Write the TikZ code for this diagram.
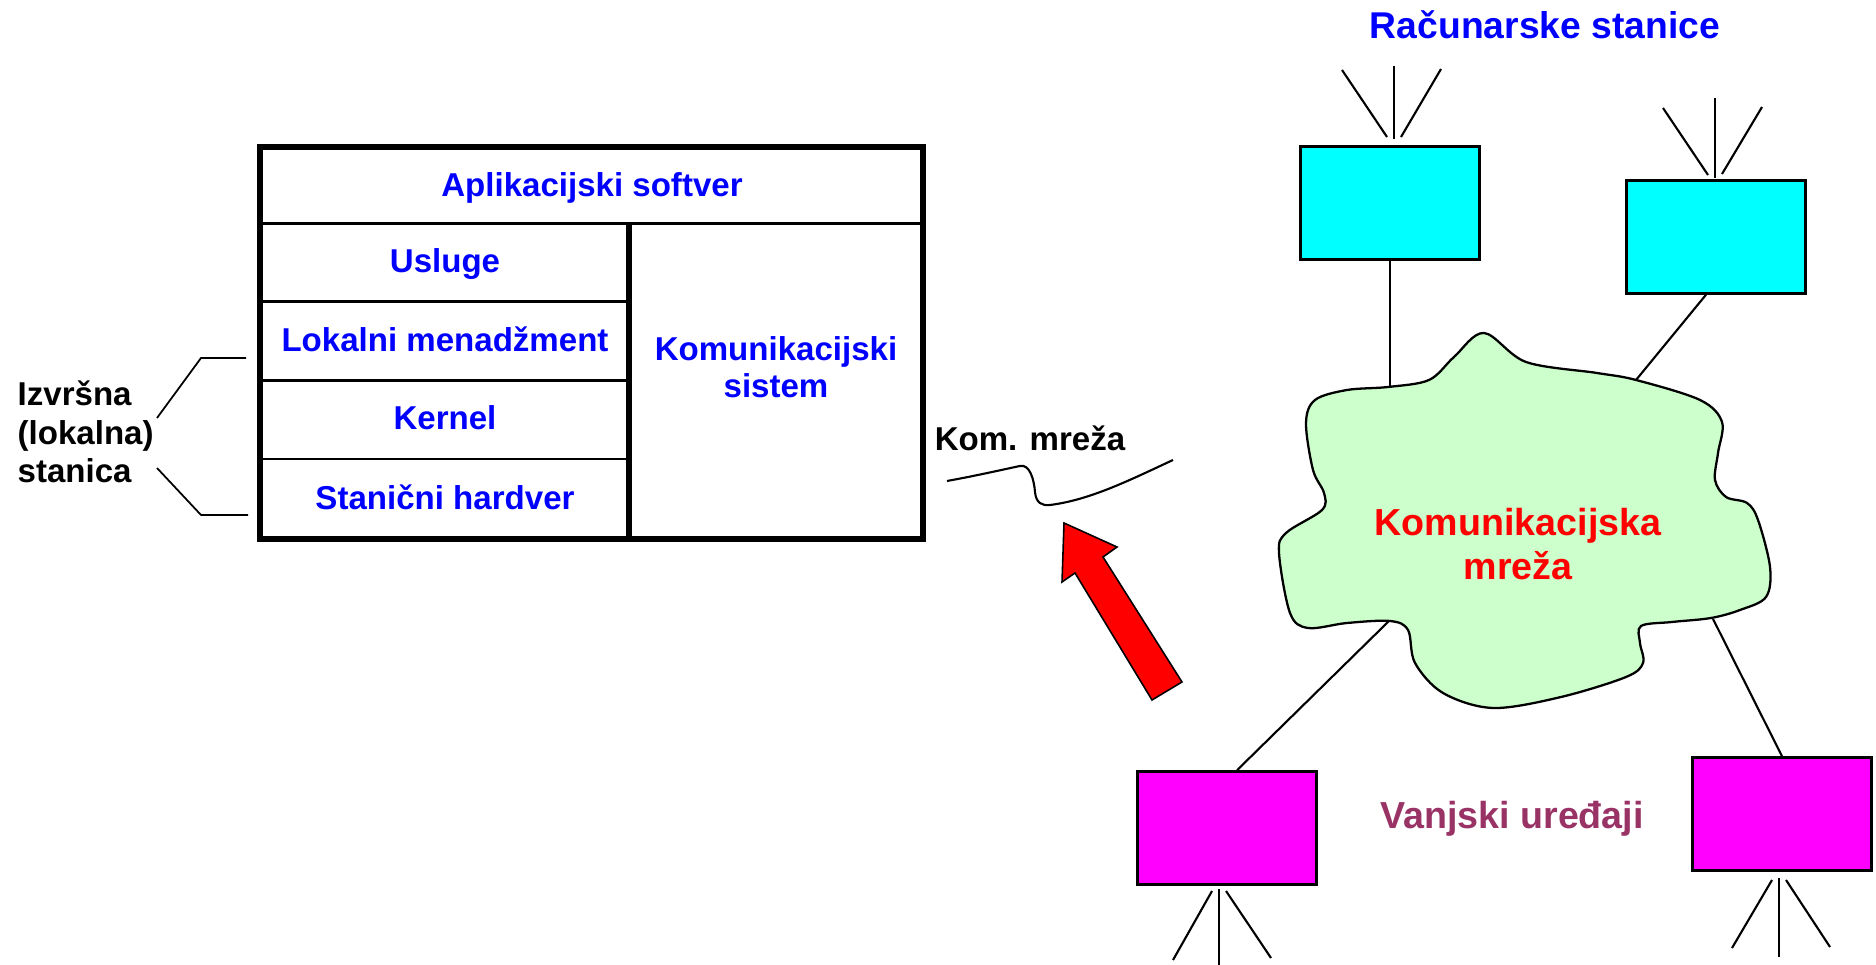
\documentclass[tikz,border=0pt]{standalone}
\usepackage{fontspec}
\setmainfont{Liberation Sans}
\definecolor{mrezagreen}{RGB}{204,255,204}
\definecolor{uredjaji}{RGB}{153,51,102}
\definecolor{stanicacyan}{RGB}{0,255,255}
\definecolor{uredjajmagenta}{RGB}{255,0,255}
\tikzset{
  sloj/.style={font=\fontsize{9.4}{10.6}\selectfont\bfseries, text=blue, anchor=base, inner sep=0pt},
  crni/.style={font=\fontsize{9.4}{11}\selectfont\bfseries, inner sep=0pt},
  stanica/.style={draw, line width=0.7pt, fill=stanicacyan, minimum width=1.79cm, minimum height=1.13cm, inner sep=0pt},
  uredjaj/.style={stanica, fill=uredjajmagenta},
  veza/.style={line width=0.6pt},
}
\begin{document}
\begin{tikzpicture}[x=0.01cm, y=-0.01cm]
\useasboundingbox (0,0) rectangle (1876,965);

\draw[line width=1.85pt] (260,147) rectangle (923,539);
\draw[line width=0.85pt] (260,223.5) -- (923,223.5);
\draw[line width=1.9pt] (629,223.5) -- (629,539);
\foreach \y in {301.7,380.5,459}
  \draw[line width=0.7pt] (260,\y) -- (629,\y);

\node[sloj] (apl) at (592,196.5) {Aplikacijski softver};
\node[sloj] (usl) at (445,273) {Usluge};
\node[sloj] (lok) at (445,351.5) {Lokalni menadžment};
\node[sloj] (ker) at (445,430) {Kernel};
\node[sloj] (hw) at (445,509.5) {Stanični hardver};
\node[sloj, anchor=center, align=center] (ks) at (776,367) {Komunikacijski\\sistem};

\node[crni, align=left, anchor=north west] (izv) at (17,380) {Izvršna\\(lokalna)\\stanica};
\draw[line width=0.5pt] (246,358) -- (201,358) -- (157,418);
\draw[line width=0.5pt] (157,468) -- (201,515) -- (248,515);

\node[crni, anchor=base] (km) at (1030,451) {Kom. mreža};
\draw[veza] (947,481) .. controls (980,475) and (1010,468) .. (1020,466)
  .. controls (1030,464) and (1034,480) .. (1035,492)
  .. controls (1036,503) and (1042,506) .. (1050,505)
  .. controls (1090,500) and (1130,480) .. (1173,460);

\draw[line width=0.45pt, fill=red] (1064,523) -- (1062,582) -- (1075,573) -- (1152,700)
  -- (1182,682) -- (1103,557) -- (1117,547) -- cycle;

\draw[line width=0.65pt, fill=mrezagreen] plot[smooth cycle, tension=0.55] coordinates {
  (1484,333) (1526,362) (1597,373) (1636,380) (1700,400) (1722,422) (1718,453)
  (1715,480) (1726,497) (1747,503) (1758,520) (1770,567) (1766,597) (1740,610)
  (1711,618) (1672,622) (1641,626) (1640,643) (1643,663) (1626,677) (1561,697)
  (1493,708) (1443,693) (1415,663) (1408,630) (1390,621) (1347,623) (1308,628)
  (1290,613) (1279,553) (1286,533) (1322,510) (1324,493) (1313,470) (1306,423)
  (1315,400) (1347,390) (1388,387) (1429,380) (1454,357)};
\node[font=\fontsize{10.7}{12.3}\selectfont\bfseries, text=red, align=center, inner sep=0pt]
  (mreza) at (1518,544) {Komunikacijska\\mreža};
\coordinate (c1) at (1390,387);
\coordinate (c2) at (1636,380);
\coordinate (c3) at (1389,621);
\coordinate (c4) at (1713,619);

\node[font=\fontsize{10.6}{12}\selectfont\bfseries, text=blue, anchor=base, inner sep=0pt]
  (rs) at (1545,39) {Računarske stanice};
\node[stanica] (rs1) at (1390,203) {};
\node[stanica] (rs2) at (1716,237) {};
\draw[veza] (rs1.south) -- (c1);
\draw[veza] ([xshift=-0.1cm]rs2.south) -- (c2);

\draw[veza] (1394,139) -- (1394,66);
\draw[veza] (1387,137) -- (1342,70);
\draw[veza] (1401,137) -- (1441,69);
\draw[veza] (1715,178) -- (1715,98);
\draw[veza] (1708,175) -- (1663,108);
\draw[veza] (1722,174) -- (1762,107);

\node[font=\fontsize{10.7}{12}\selectfont\bfseries, text=uredjaji, anchor=base, inner sep=0pt]
  (vu) at (1512,829) {Vanjski uređaji};
\node[uredjaj] (vu1) at (1227,828) {};
\node[uredjaj] (vu2) at (1782,814) {};
\draw[veza] (c3) -- ([xshift=0.1cm]vu1.north);
\draw[veza] (c4) -- (vu2.north);

\draw[veza] (1219,889) -- (1219,965);
\draw[veza] (1212,891) -- (1173,960);
\draw[veza] (1226,891) -- (1271,958);
\draw[veza] (1779,878) -- (1779,957);
\draw[veza] (1772,880) -- (1732,948);
\draw[veza] (1786,880) -- (1830,947);
\end{tikzpicture}
\end{document}
